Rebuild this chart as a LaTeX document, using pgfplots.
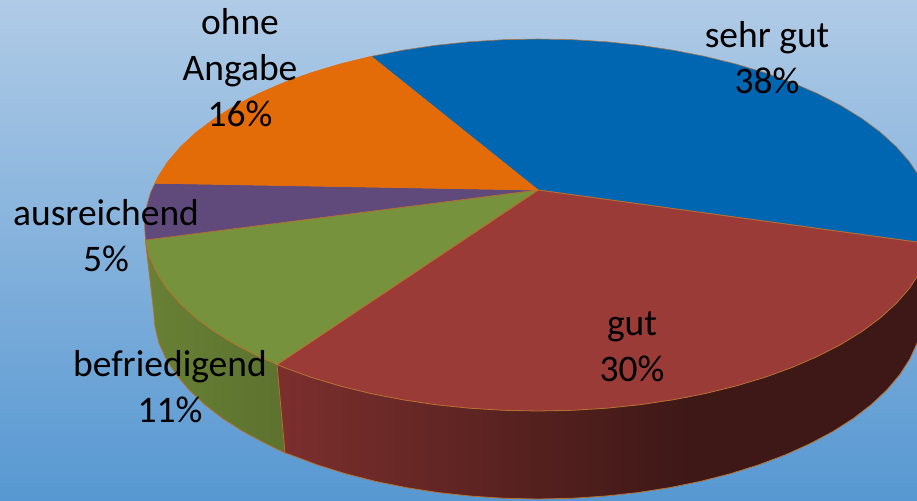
\documentclass[border=0pt]{standalone}
\usepackage{fontspec}
\setmainfont{Carlito}
\usepackage{pgfplots}
\pgfplotsset{compat=1.18}
\definecolor{bgT}{HTML}{B0CBE6}
\definecolor{bgB}{HTML}{5798D2}
\definecolor{blueS}{HTML}{0066B2}
\definecolor{redS}{HTML}{9A3B38}
\definecolor{greenS}{HTML}{76923C}
\definecolor{purpS}{HTML}{604A7B}
\definecolor{orS}{HTML}{E36C09}
\definecolor{edge}{HTML}{B8702E}
\begin{document}
\begin{tikzpicture}
\begin{axis}[
  width=917pt,height=500pt,scale only axis,
  hide axis,
  xmin=0,xmax=917,ymin=0,ymax=500,y dir=reverse,
  clip=true,
  nodes={font=\fontsize{37.5}{46}\selectfont,align=center,text=black,inner sep=0pt},
]
% background
\addplot[draw=none,top color=bgT,bottom color=bgB] coordinates {(0,0)(917,0)(917,500)(0,500)} -- cycle;
% green wall
\addplot[draw=none,left color=greenS!88!black,right color=greenS!78!black] coordinates {
(277,364.6)(258.7,356.5)(235.4,344.6)(214.4,331.7)(195.9,318)(180,303.6)(166.8,288.6)(157,273.1)(149.5,257.3)(145.5,241.2)
(153.5,310)(155,326.5)(158.8,342.8)(166.1,358.9)(176.2,374.6)(189.1,389.9)(204.6,404.5)(222.6,418.4)(243.1,431.5)(265.8,443.6)(285,453)} -- cycle;
% red wall, shaded part
\addplot[draw=none,left color=redS!80!black,right color=redS!40!black] coordinates {
(277,364.6)(284.1,367.5)(311.4,377.4)(340.5,386.1)(371.1,393.6)(402.9,399.8)(435.8,404.7)(469.4,408.2)(503.6,410.3)(538,411)(572.4,410.3)(606.6,408.2)(640.2,404.7)(690,397)
(686,484.6)(669.7,487.6)(637.6,492.6)(604.8,496.1)(571.6,498.3)(538,499)(504.4,498.3)(471.2,496.1)(438.4,492.6)(406.3,487.6)(375.3,481.3)(345.5,473.7)(317.2,464.8)(290.5,454.8)(285,453)} -- cycle;
% red wall, dark part
\addplot[draw=none,fill=redS!40!black] coordinates {
(688,397)(704.9,393.6)(735.5,386.1)(764.6,377.4)(791.9,367.5)(817.3,356.5)(840.6,344.6)(861.6,331.7)(880.1,318)(896,303.6)(909.2,288.6)(919.5,273.1)(927,257.3)(931,244)
(923,310)(921.5,326.5)(917.2,342.8)(909.9,358.9)(899.8,374.6)(886.9,389.9)(871.4,404.5)(853.4,418.4)(832.9,431.5)(810.2,443.6)(785.5,454.8)(758.8,464.8)(730.5,473.7)(700.7,481.3)(685,484.6)} -- cycle;
% wall outlines
\addplot[edge,line width=0.8pt] coordinates {
(145.5,241.2)(153.5,310)(155,326.5)(158.8,342.8)(166.1,358.9)(176.2,374.6)(189.1,389.9)(204.6,404.5)(222.6,418.4)(243.1,431.5)(265.8,443.6)(285,453)(290.5,454.8)(317.2,464.8)(345.5,473.7)(375.3,481.3)(406.3,487.6)(438.4,492.6)(471.2,496.1)(504.4,498.3)(538,499)(571.6,498.3)(604.8,496.1)(637.6,492.6)(669.7,487.6)(700.7,481.3)(730.5,473.7)(758.8,464.8)(785.5,454.8)(810.2,443.6)(832.9,431.5)(853.4,418.4)(871.4,404.5)(886.9,389.9)(899.8,374.6)(909.9,358.9)(917.2,342.8)(921.5,326.5)(923,310)};
\addplot[edge,line width=0.8pt] coordinates {(277,364.6)(285,453)};
% blue
\addplot[draw=edge!70!gray,line width=0.6pt,fill=blueS] coordinates {
(538,190)(371.1,56.4)(402.9,50.2)(435.8,45.3)(469.4,41.8)(503.6,39.7)(538,39)(572.4,39.7)(606.6,41.8)(640.2,45.3)(673.1,50.2)(704.9,56.4)(735.5,63.9)(764.6,72.6)(791.9,82.5)(817.3,93.5)(840.6,105.4)(861.6,118.3)(880.1,132)(896,146.4)(909.2,161.4)(919.5,176.9)(927,192.7)(931.5,208.8)(933,225)(931,244)} -- cycle;
% red
\addplot[draw=edge,line width=0.8pt,fill=redS] coordinates {
(538,190)(931,244)(927,257.3)(919.5,273.1)(909.2,288.6)(896,303.6)(880.1,318)(861.6,331.7)(840.6,344.6)(817.3,356.5)(791.9,367.5)(764.6,377.4)(735.5,386.1)(704.9,393.6)(673.1,399.8)(640.2,404.7)(606.6,408.2)(572.4,410.3)(538,411)(503.6,410.3)(469.4,408.2)(435.8,404.7)(402.9,399.8)(371.1,393.6)(340.5,386.1)(311.4,377.4)(284.1,367.5)(277,364.6)} -- cycle;
% green
\addplot[draw=edge,line width=0.8pt,fill=greenS] coordinates {
(538,190)(277,364.6)(258.7,356.5)(235.4,344.6)(214.4,331.7)(195.9,318)(180,303.6)(166.8,288.6)(157,273.1)(149.5,257.3)(145.5,240)} -- cycle;
% purple
\addplot[draw=edge,line width=0.6pt,fill=purpS] coordinates {
(538,190)(145.5,240)(144.5,225)(146,208.8)(150.5,192.7)(155,183.2)} -- cycle;
% orange
\addplot[draw=orS,line width=0.6pt,fill=orS] coordinates {
(538,190)(155,183.2)(158,176.9)(168,161.4)(181,146.4)(196.5,132)(214.8,118.3)(235.4,105.4)(258.7,93.5)(284.1,82.5)(311.4,72.6)(340.5,63.9)(371.1,56.4)} -- cycle;
% labels
\node at (axis cs:767,58) {sehr gut\\38\%};
\node at (axis cs:632,347) {gut\\30\%};
\node at (axis cs:170,387) {befriedigend\\11\%};
\node at (axis cs:106,236) {ausreichend\\5\%};
\node at (axis cs:240,68) {ohne\\Angabe\\16\%};
\end{axis}
\end{tikzpicture}
\end{document}
